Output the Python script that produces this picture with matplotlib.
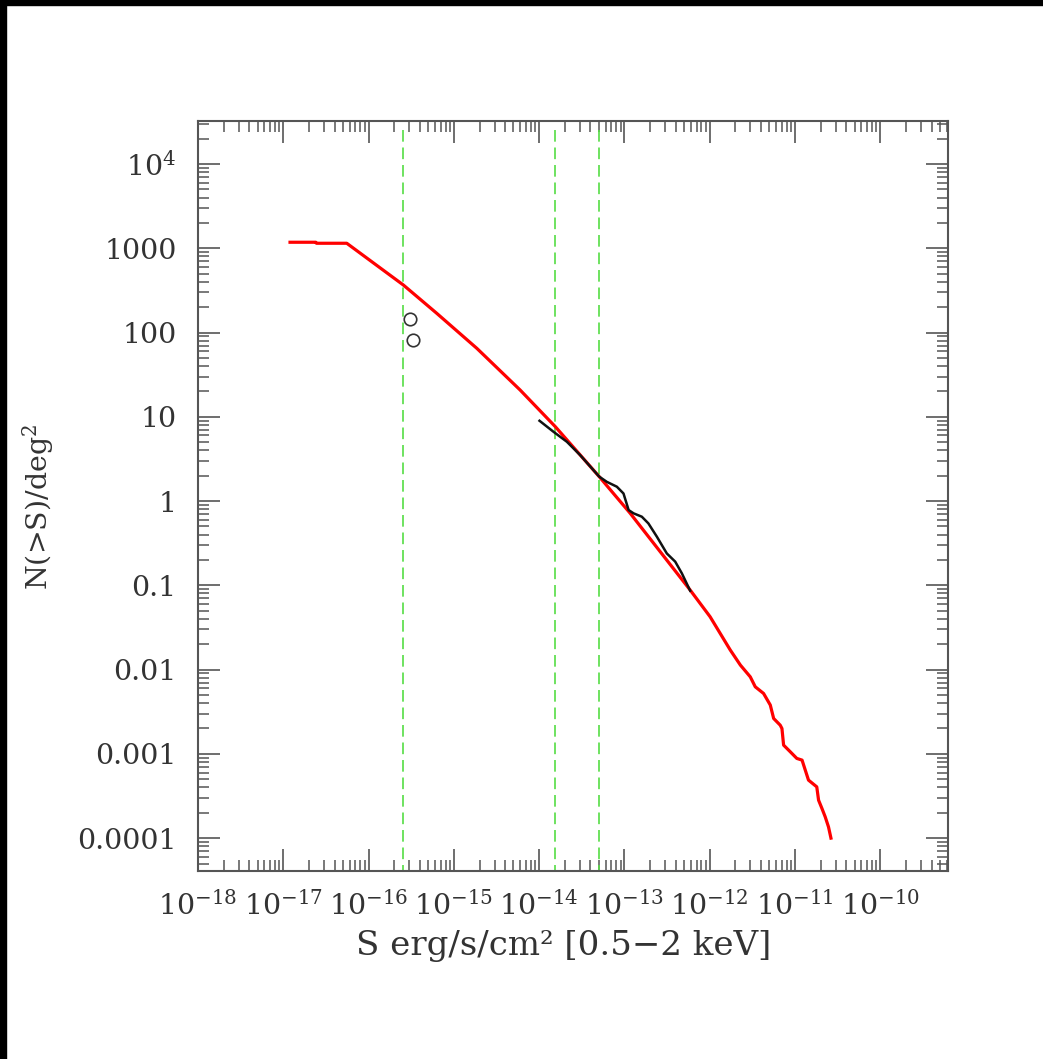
# - Cumulative source counts N(>S), 0.5-2 keV - #

import numpy as np
import matplotlib.pyplot as plt
from matplotlib.patches import Rectangle

##############################################################################

# red curve: model/total logN-logS
red_S = [1.20e-17, 2.40e-17, 2.45e-17, 5.55e-17, 2.56e-16, 6.3e-16, 1.86e-15,
         5.98e-15, 1.55e-14, 5.06e-14, 1.17e-13, 5.9e-13, 1.01e-12, 1.74e-12,
         2.29e-12, 2.99e-12, 3.42e-12, 4.28e-12, 5.13e-12, 5.62e-12, 6.71e-12,
         7.03e-12, 7.35e-12, 8.79e-12, 1.05e-11, 1.21e-11, 1.32e-11, 1.44e-11,
         1.80e-11, 1.89e-11, 2.07e-11, 2.26e-11, 2.47e-11, 2.64e-11]
red_N = [1178, 1178, 1146, 1146, 366, 169, 64.9,
         20.8, 7.62, 1.95, 0.715, 0.0879, 0.0424, 0.0171,
         0.0113, 8.2e-3, 6.25e-3, 5.21e-3, 3.8e-3, 2.63e-3, 2.19e-3,
         2.0e-3, 1.27e-3, 1.06e-3, 8.83e-4, 8.43e-4, 6.41e-4, 4.88e-4,
         4.06e-4, 2.82e-4, 2.25e-4, 1.79e-4, 1.36e-4, 1.0e-4]

# black curve: observed counts
obs_S = [1.01e-14, 1.47e-14, 2.11e-14, 3.02e-14, 5.06e-14, 6.22e-14, 8.15e-14,
         9.75e-14, 1.12e-13, 1.28e-13, 1.60e-13, 1.91e-13, 2.40e-13, 3.14e-13,
         3.94e-13, 4.71e-13, 5.9e-13]
obs_N = [8.97, 6.65, 5.06, 3.52, 1.95, 1.69, 1.48,
         1.23, 0.782, 0.715, 0.652, 0.543, 0.378, 0.239,
         0.191, 0.139, 0.0863]

# open circles (deep field points)
pts_S = [3.07e-16, 3.30e-16]
pts_N = [144, 81.5]

# flux limits (green dashed)
limits_S = [2.56e-16, 1.55e-14, 5.06e-14]

xticks = [10.0**k for k in range(-18, -9)]
xlabels = [r'$10^{%d}$' % k for k in range(-18, -9)]
yticks = [1e-4, 1e-3, 1e-2, 1e-1, 1, 10, 100, 1000, 1e4]
ylabels = ['0.0001', '0.001', '0.01', '0.1', '1', '10', '100', '1000', r'$10^4$']

##############################################################################

plt.rcParams['font.family'] = 'DejaVu Serif'
plt.rcParams['mathtext.fontset'] = 'dejavuserif'

fig = plt.figure(figsize=(10.43, 10.59), dpi=100)
ax = fig.add_axes([198/1043, 1-871/1059, 750/1043, 750/1059])

ax.set_xscale('log')
ax.set_yscale('log')
ax.set_xlim(1e-18, 10**-9.206)
ax.set_ylim(10**-4.39, 10**4.51)

for s in limits_S:
    ax.plot([s, s], [2.5e4, 10**-4.39], color='#55dd44', lw=1.2, dashes=(7, 3.5))

ax.plot(red_S, red_N, color='#ff0000', lw=2.3)
ax.plot(obs_S, obs_N, color='#111111', lw=1.8)
ax.plot(pts_S, pts_N, 'o', mfc='none', mec='#333333', mew=1.2, ms=9)

# axis style: inward ticks on all sides
for sp in ax.spines.values():
    sp.set_color('#555555')
    sp.set_linewidth(1.5)

ax.set_xticks(xticks, xlabels)
ax.set_yticks(yticks, ylabels)
ax.xaxis.set_minor_locator(plt.LogLocator(base=10, subs=np.arange(2, 10), numticks=30))
ax.yaxis.set_minor_locator(plt.LogLocator(base=10, subs=np.arange(2, 10), numticks=30))
ax.xaxis.set_minor_formatter(plt.NullFormatter())
ax.yaxis.set_minor_formatter(plt.NullFormatter())

ax.tick_params(which='both', direction='in', top=True, right=True, color='#555555')
ax.tick_params(which='major', length=15.8, width=1.2)
ax.tick_params(which='minor', length=7.9, width=1.1)
ax.tick_params(axis='x', which='major', labelsize=20.5, labelcolor='#333333', pad=14)
ax.tick_params(axis='y', which='major', labelsize=20.5, labelcolor='#333333', pad=15.5)

fig.text(564/1043, 1-946/1059, 'S erg/s/cm² [0.5\u22122 keV]', fontsize=24.5,
         color='#333333', ha='center', va='center')
fig.text(38/1043, 1-507/1059, r'N(>S)/deg$^2$', fontsize=20.5, color='#333333',
         rotation=90, ha='center', va='center')

# black frame strips along top and left edge
fig.patches.append(Rectangle((0, 1-5/1059), 1, 5/1059, color='black',
                             transform=fig.transFigure, figure=fig))
fig.patches.append(Rectangle((0, 0), 6/1043, 1, color='black',
                             transform=fig.transFigure, figure=fig))

plt.savefig('out.png', dpi=100)
